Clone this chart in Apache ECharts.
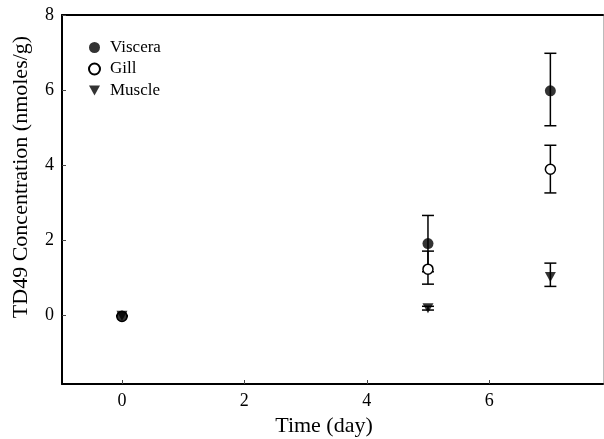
<!DOCTYPE html>
<html>
<head>
<meta charset="utf-8">
<script src="https://cdn.jsdelivr.net/npm/echarts@6/dist/echarts.min.js"></script>
<style>html,body{margin:0;padding:0;background:#fff}#c{width:604px;height:439px}</style>
</head>
<body>
<div id="c"></div>
<script>
// Data
const days = [0, 5, 7];
const visceraMean = [-0.02, 1.91, 5.98];
const visceraLow  = [-0.02, 1.16, 5.05];
const visceraHigh = [-0.02, 2.66, 6.98];
const gillMean = [-0.03, 1.23, 3.89];
const gillLow  = [-0.03, 0.83, 3.26];
const gillHigh = [-0.03, 1.71, 4.53];
const muscleMean = [-0.01, 0.19, 1.02];
const muscleLow  = [-0.01, 0.14, 0.77];
const muscleHigh = [-0.01, 0.24, 1.39];
const xTicks = [0, 2, 4, 6];
const yTicks = [0, 2, 4, 6, 8];
const seriesNames = ['Viscera', 'Gill', 'Muscle'];

const FONT = '"Liberation Serif", "Times New Roman", serif';
const tri = 'path://M0,0 L10,0 L5,9 Z';

function pts(mean) { return days.map((d, i) => [d, mean[i]]); }
function errs(low, high) { return days.map((d, i) => [d, low[i], high[i]]); }

function renderErr(params, api) {
  const x = api.value(0), lo = api.value(1), hi = api.value(2);
  const a = api.coord([x, hi]), b = api.coord([x, lo]);
  const w = 6;
  const st = { stroke: '#000', lineWidth: 1.5 };
  return {
    type: 'group',
    children: [
      { type: 'line', shape: { x1: a[0], y1: a[1], x2: b[0], y2: b[1] }, style: st },
      { type: 'line', shape: { x1: a[0] - w, y1: a[1], x2: a[0] + w, y2: a[1] }, style: st },
      { type: 'line', shape: { x1: b[0] - w, y1: b[1], x2: b[0] + w, y2: b[1] }, style: st }
    ]
  };
}

const chart = echarts.init(document.getElementById('c'), null, { renderer: 'canvas' });
const xMin = -0.98, xMax = 7.86, yMin = -1.83, yMax = 8;

chart.setOption({
  animation: false,
  backgroundColor: '#fff',
  grid: { left: 62, right: 1, top: 15, bottom: 55 },
  legend: {
    orient: 'vertical', left: 83, top: 34, itemGap: 4.5,
    itemWidth: 11, itemHeight: 11,
    textStyle: { fontFamily: FONT, fontSize: 17, color: '#000', padding: [0, 0, 0, 5] },
    data: [
      { name: 'Viscera', icon: 'circle' },
      { name: 'Gill', icon: 'circle' },
      { name: 'Muscle', icon: tri }
    ]
  },
  xAxis: [{
    type: 'value', min: xMin, max: xMax, position: 'bottom',
    axisLine: { show: true, onZero: false, lineStyle: { color: '#000', width: 2 } },
    axisTick: { show: true, inside: true, length: 4, customValues: xTicks, lineStyle: { color: '#444' } },
    axisLabel: { customValues: xTicks, fontFamily: FONT, fontSize: 18, color: '#000', margin: 8 },
    splitLine: { show: false }
  }, {
    type: 'value', min: xMin, max: xMax, position: 'top',
    axisLine: { show: true, onZero: false, lineStyle: { color: '#000', width: 2 } },
    axisTick: { show: false }, axisLabel: { show: false }, splitLine: { show: false }
  }],
  yAxis: [{
    type: 'value', min: yMin, max: yMax, position: 'left',
    axisLine: { show: true, onZero: false, lineStyle: { color: '#000', width: 2 } },
    axisTick: { show: true, inside: true, length: 4, customValues: yTicks, lineStyle: { color: '#444' } },
    axisLabel: { customValues: yTicks, fontFamily: FONT, fontSize: 18, color: '#000', margin: 8 },
    splitLine: { show: false }
  }, {
    type: 'value', min: yMin, max: yMax, position: 'right',
    axisLine: { show: true, onZero: false, lineStyle: { color: '#bbb', width: 1 } },
    axisTick: { show: false }, axisLabel: { show: false }, splitLine: { show: false }
  }],
  graphic: [
    { type: 'text', x: 324, y: 426, style: { text: 'Time (day)', font: '22px ' + FONT, fill: '#000', textAlign: 'center', textVerticalAlign: 'middle' } },
    { type: 'text', x: 21, y: 177, rotation: Math.PI / 2, style: { text: 'TD49 Concentration (nmoles/g)', font: '22px ' + FONT, fill: '#000', textAlign: 'center', textVerticalAlign: 'middle' } }
  ],
  series: [
    { type: 'custom', name: 'errV', renderItem: renderErr, data: errs(visceraLow, visceraHigh), z: 1, silent: true },
    { type: 'custom', name: 'errG', renderItem: renderErr, data: errs(gillLow, gillHigh), z: 1, silent: true },
    { type: 'custom', name: 'errM', renderItem: renderErr, data: errs(muscleLow, muscleHigh), z: 1, silent: true },
    { type: 'scatter', name: seriesNames[1], data: pts(gillMean), symbol: 'circle', symbolSize: 10, itemStyle: { color: '#fff', borderColor: '#000', borderWidth: 1.5, opacity: 1 }, z: 3 },
    { type: 'scatter', name: seriesNames[0], data: pts(visceraMean), symbol: 'circle', symbolSize: 11, itemStyle: { color: '#000' }, z: 4 },
    { type: 'scatter', name: seriesNames[2], data: pts(muscleMean), symbol: tri, symbolSize: [11, 10], itemStyle: { color: '#000' }, z: 5 }
  ]
});
</script>
</body>
</html>
